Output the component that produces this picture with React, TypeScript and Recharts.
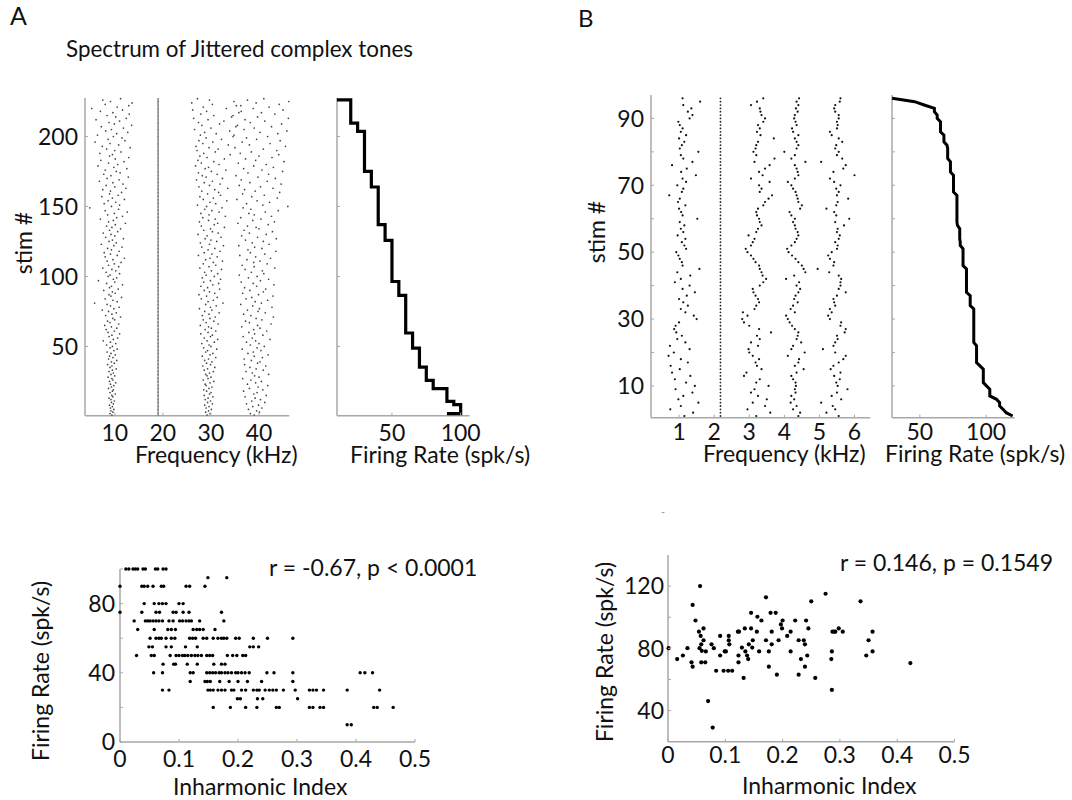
import React from 'react'
import { ScatterChart, Scatter, XAxis, YAxis } from 'recharts'

const FONT = 'Lato, "Open Sans", "DejaVu Sans", sans-serif'
const AXIS_GRAY = '#a8a8a8'
const TICK_FS = 23

// ---------- A: spectrum raster (kHz per stimulus, stim 1 at bottom) ----------
const A_FIXED_KHZ = 19.0
const A_H1_KHZ = [
  9.4, 9.0, 9.6, 9.2, 9.8, 9.1, 9.5, 8.9, 9.7, 9.3,
  9.9, 9.2, 8.8, 9.6, 9.4, 10.1, 9.0, 9.5, 9.7, 8.7,
  9.3, 9.8, 9.1, 10.2, 8.9, 9.6, 9.4, 8.6, 10.0, 9.2,
  9.7, 8.8, 9.5, 10.3, 9.0, 9.4, 8.5, 9.9, 9.3, 10.4,
  8.7, 9.6, 8.9, 10.1, 9.2, 8.4, 9.8, 10.5, 9.0, 9.5,
  8.3, 10.2, 9.1, 7.6, 9.7, 10.6, 8.8, 9.4, 11.0, 8.6,
  9.9, 8.2, 10.4, 9.3, 7.9, 10.8, 9.0, 8.5, 10.0, 9.6,
  11.2, 8.1, 9.4, 10.3, 8.7, 7.4, 9.8, 10.9, 9.1, 8.4,
  5.8, 10.5, 9.6, 8.0, 11.4, 9.2, 8.8, 10.1, 9.5, 7.7,
  10.7, 8.9, 9.3, 11.6, 8.3, 10.0, 6.6, 9.7, 10.4, 8.6,
  9.0, 11.0, 8.2, 10.2, 9.4, 7.5, 10.8, 8.7, 9.9, 11.3,
  8.4, 9.6, 12.0, 8.0, 10.5, 9.1, 7.8, 10.9, 9.3, 8.5,
  11.5, 9.8, 7.2, 10.3, 8.8, 9.5, 11.8, 8.1, 10.0, 9.2,
  7.6, 10.6, 8.9, 11.2, 9.4, 8.3, 10.1, 12.2, 8.7, 9.7,
  7.0, 10.4, 11.6, 8.5, 9.9, 12.6, 8.0, 10.8, 4.8, 9.3,
  11.0, 7.8, 10.2, 8.6, 12.0, 9.5, 7.3, 10.7, 8.9, 11.4,
  9.1, 7.5, 12.3, 10.0, 8.2, 11.7, 9.6, 6.8, 10.9, 8.4,
  12.8, 9.2, 7.7, 11.1, 10.3, 8.0, 12.5, 9.8, 6.5, 10.6,
  8.7, 11.9, 7.1, 10.1, 12.9, 8.9, 9.5, 6.9, 11.3, 10.0,
  8.3, 13.2, 7.4, 10.8, 9.0, 5.9, 12.1, 8.6, 11.5, 9.7,
  6.4, 10.4, 12.7, 8.1, 9.3, 11.8, 7.2, 13.5, 9.9, 8.8,
  11.0, 6.1, 12.4, 10.2, 8.4, 13.0, 9.6, 7.0, 11.6, 5.2,
  10.5, 12.9, 8.0, 13.6, 9.1, 7.5, 11.2,
]
const A_H3_KHZ = [
  29.2, 29.8, 28.9, 29.5, 30.1, 29.0, 29.6, 28.7, 30.3, 29.3,
  29.9, 28.8, 29.4, 30.4, 28.6, 29.7, 30.0, 29.1, 28.5, 29.6,
  30.2, 29.0, 28.8, 29.8, 30.6, 28.4, 29.4, 30.0, 29.2, 28.9,
  29.7, 30.5, 28.6, 29.3, 30.8, 28.3, 29.9, 29.1, 30.2, 28.7,
  29.5, 31.0, 28.2, 29.8, 30.4, 28.9, 29.3, 31.2, 28.5, 30.0,
  29.6, 28.1, 30.7, 29.2, 31.4, 28.6, 29.9, 30.3, 27.9, 29.4,
  31.0, 28.8, 30.1, 29.5, 27.8, 31.5, 29.0, 30.6, 28.4, 29.8,
  30.9, 28.2, 29.6, 31.7, 28.7, 30.2, 27.6, 29.9, 31.1, 28.9,
  32.5, 29.4, 30.5, 28.0, 31.3, 29.1, 27.5, 30.8, 29.7, 28.6,
  31.8, 29.3, 27.9, 30.4, 31.6, 28.5, 29.9, 32.0, 28.2, 30.7,
  29.0, 31.4, 28.7, 30.1, 32.2, 27.7, 29.6, 31.0, 28.4, 30.5,
  32.4, 28.9, 29.8, 31.3, 27.4, 30.2, 28.6, 31.9, 29.4, 30.8,
  28.1, 32.6, 29.7, 27.8, 31.2, 30.0, 28.8, 32.1, 29.2, 27.3,
  31.5, 30.3, 28.5, 29.9, 32.8, 28.0, 30.7, 31.4, 27.6, 29.5,
  30.9, 28.3, 33.0, 29.6, 27.9, 31.7, 30.2, 28.7, 32.3, 29.1,
  27.2, 31.0, 29.8, 33.3, 28.4, 30.5, 27.7, 32.0, 29.3, 31.6,
  28.1, 30.8, 33.5, 27.5, 29.7, 31.9, 28.6, 30.3, 27.0, 32.4,
  29.0, 28.2, 31.3, 27.4, 30.1, 33.1, 28.8, 29.5, 26.8, 31.7,
  28.0, 30.6, 27.3, 32.8, 29.2, 27.7, 34.0, 28.5, 30.9, 27.1,
  31.5, 29.6, 26.9, 33.6, 28.3, 30.4, 27.5, 32.2, 29.0, 34.6,
  27.8, 31.1, 28.7, 33.9, 26.6, 30.0, 35.2, 28.1, 31.8, 27.4,
  32.7, 29.4, 26.4, 34.3, 30.6, 27.9, 35.8, 29.1, 26.2, 33.2,
  28.4, 36.2, 30.3, 26.0, 34.8, 29.7, 27.2,
]
const A_H4_KHZ = [
  39.0, 38.2, 40.1, 39.5, 37.8, 40.6, 38.7, 39.9, 37.4, 41.2,
  38.5, 40.3, 39.2, 37.1, 41.5, 38.9, 39.6, 36.8, 40.8, 38.0,
  39.8, 41.8, 37.6, 39.3, 40.5, 38.3, 36.6, 40.0, 39.1, 42.0,
  38.6, 37.3, 40.9, 39.4, 38.1, 41.4, 37.0, 39.7, 40.2, 38.4,
  36.9, 40.7, 39.0, 41.9, 37.7, 38.8, 40.4, 36.5, 39.6, 41.1,
  38.2, 40.0, 37.4, 39.3, 42.3, 38.6, 36.7, 40.8, 39.1, 37.9,
  41.6, 38.9, 40.2, 36.4, 39.7, 42.5, 38.0, 37.2, 40.6, 39.4,
  43.0, 38.3, 36.8, 41.3, 39.8, 37.6, 40.1, 42.7, 38.7, 36.2,
  40.5, 39.2, 41.8, 37.3, 38.5, 42.9, 39.9, 36.6, 40.9, 38.1,
  41.4, 37.0, 39.5, 43.1, 38.8, 36.3, 40.3, 42.0, 37.8, 39.6,
  35.9, 41.0, 38.4, 40.7, 37.1, 43.3, 39.0, 36.5, 41.7, 38.9,
  40.2, 37.5, 42.4, 39.3, 36.0, 41.2, 38.2, 43.5, 37.7, 40.6,
  39.1, 35.8, 42.1, 38.6, 40.9, 37.2, 43.6, 39.7, 36.4, 41.5,
  38.0, 42.8, 36.9, 40.0, 39.4, 37.6, 41.9, 35.6, 43.2, 38.7,
  40.4, 36.2, 42.6, 39.0, 37.9, 41.3, 44.0, 38.3, 36.7, 46.0,
  40.8, 37.4, 42.2, 39.6, 35.4, 43.8, 38.5, 41.1, 36.6, 44.3,
  39.2, 37.0, 42.9, 40.3, 35.9, 44.6, 38.1, 41.7, 36.3, 43.4,
  39.8, 35.2, 42.0, 37.7, 44.9, 40.6, 36.8, 43.0, 38.9, 41.5,
  35.7, 45.2, 39.3, 37.2, 42.7, 40.0, 44.1, 36.1, 38.4, 43.7,
  40.9, 35.0, 45.5, 38.0, 42.3, 36.5, 44.4, 39.5, 37.4, 41.8,
  34.8, 43.9, 40.2, 45.8, 36.9, 39.0, 42.6, 35.5, 44.7, 38.2,
  41.2, 37.1, 46.1, 39.7, 34.6, 43.3, 40.5, 36.3, 45.0, 38.8,
  42.1, 35.3, 44.2, 39.4, 46.2, 37.6, 41.0,
]

// ---------- A: sorted firing rate staircase ----------
const FR_A_TOP_RATE = 10
const FR_A_BOTTOM_RATE = 90
const FR_A_LEVELS = [20, 25, 30, 35, 40, 45, 50, 55, 60, 65, 70, 75, 80, 90, 95, 100]
const FR_A_EDGES = [226.2, 209.5, 203.6, 175, 163.9, 137, 125.7, 96.4, 86.4, 59.6, 48.8, 35.2, 25.7, 19.8, 10.7, 8.4, 2]

// ---------- A: rate vs inharmonic index ----------
const SA_RATES = [100, 95, 90, 80, 75, 70, 65, 60, 55, 50, 45, 40, 35, 30, 25, 20, 10]
const SA_INDEX = [
  [0.01, 0.015, 0.022, 0.026, 0.03, 0.039, 0.043, 0.06, 0.064, 0.073, 0.078],
  [0.149, 0.181],
  [0, 0.037, 0.041, 0.047, 0.056, 0.07, 0.074, 0.112, 0.118, 0.144],
  [0.041, 0.058, 0.066, 0.072, 0.078, 0.1, 0.107],
  [0, 0.037, 0.061, 0.067, 0.09, 0.095, 0.107, 0.117, 0.172],
  [0.024, 0.043, 0.047, 0.051, 0.056, 0.061, 0.066, 0.072, 0.083, 0.09, 0.101, 0.106, 0.112, 0.117, 0.121, 0.135, 0.176],
  [0.03, 0.058, 0.081, 0.087, 0.094, 0.124, 0.13, 0.135, 0.141, 0.161],
  [0.051, 0.061, 0.066, 0.07, 0.078, 0.087, 0.093, 0.118, 0.123, 0.128, 0.141, 0.147, 0.158, 0.166, 0.172, 0.176, 0.181, 0.196, 0.202, 0.226, 0.25, 0.293],
  [0.049, 0.055, 0.078, 0.087, 0.111, 0.131, 0.22, 0.226, 0.235],
  [0.028, 0.053, 0.058, 0.085, 0.095, 0.1, 0.106, 0.11, 0.115, 0.121, 0.127, 0.132, 0.138, 0.147, 0.152, 0.157, 0.182, 0.191, 0.198, 0.208, 0.213],
  [0.073, 0.091, 0.094, 0.114, 0.131, 0.159, 0.172, 0.178],
  [0.057, 0.072, 0.119, 0.124, 0.147, 0.152, 0.157, 0.162, 0.168, 0.172, 0.178, 0.183, 0.189, 0.196, 0.2, 0.206, 0.212, 0.219, 0.249, 0.261, 0.293, 0.407, 0.415, 0.428],
  [0.119, 0.144, 0.148, 0.153, 0.169, 0.185, 0.2, 0.216, 0.24, 0.293],
  [0.072, 0.083, 0.149, 0.153, 0.158, 0.166, 0.172, 0.178, 0.189, 0.193, 0.206, 0.213, 0.226, 0.232, 0.236, 0.246, 0.253, 0.259, 0.265, 0.277, 0.297, 0.321, 0.327, 0.333, 0.345, 0.385, 0.44],
  [0.199, 0.204, 0.233, 0.242, 0.301],
  [0.158, 0.187, 0.213, 0.232, 0.265, 0.27, 0.321, 0.327, 0.339, 0.345, 0.43, 0.436, 0.463],
  [0.385, 0.392],
]

// ---------- B: spectrum raster ----------
const B_FIXED_KHZ = 2.18
const B_H1_KHZ = [
  1.15, 1.40, 0.75, 1.05, 1.55, 0.98, 1.12, 1.38, 0.90, 1.45,
  1.20, 0.88, 1.32, 0.80, 1.02, 0.76, 1.25, 1.05, 0.70, 0.85,
  1.30, 0.74, 1.18, 0.95, 1.08, 0.92, 0.86, 0.90, 1.00, 1.50,
  1.42, 1.18, 1.05, 1.25, 1.12, 1.00, 1.22, 1.45, 1.10, 1.30,
  0.88, 1.05, 1.32, 0.95, 1.58, 1.10, 1.08, 1.02, 0.98, 0.92,
  1.20, 1.15, 1.08, 1.18, 0.96, 1.12, 1.05, 1.15, 1.02, 1.52,
  1.10, 1.06, 1.00, 1.18, 0.97, 1.02, 0.72, 1.08, 1.12, 0.95,
  1.20, 1.10, 1.48, 1.06, 1.22, 0.80, 1.38, 1.12, 1.05, 1.55,
  1.02, 1.08, 1.15, 1.00, 1.20, 1.05, 1.10, 1.02, 0.98, 1.30,
  1.38, 1.25, 1.35, 1.12, 1.60, 1.10,
]
const B_H3_KHZ = [
  3.20, 3.60, 2.95, 3.45, 3.10, 3.50, 3.25, 3.05, 3.15, 3.55,
  3.20, 3.30, 2.85, 2.92, 3.35, 3.22, 3.18, 3.28, 3.10, 3.00,
  2.98, 3.25, 3.05, 3.30, 3.22, 3.62, 3.28, 3.00, 2.85, 2.80,
  2.95, 2.82, 3.15, 3.20, 3.28, 3.25, 3.18, 3.12, 3.10, 3.30,
  3.40, 3.48, 3.38, 3.35, 3.30, 3.28, 3.18, 3.12, 3.05, 2.95,
  2.90, 3.05, 3.10, 3.15, 2.98, 3.20, 3.25, 3.35, 3.30, 3.28,
  3.22, 3.20, 3.25, 3.40, 3.45, 3.55, 3.65, 3.30, 3.35, 3.28,
  3.58, 3.05, 3.38, 3.28, 3.45, 3.58, 3.15, 3.72, 3.20, 3.12,
  3.18, 3.20, 3.25, 3.70, 3.32, 3.22, 3.30, 3.25, 3.40, 3.45,
  3.35, 3.32, 3.30, 3.05, 3.22, 3.40,
]
const B_H4_KHZ = [
  4.40, 4.45, 4.25, 4.35, 4.18, 4.28, 4.20, 4.32, 4.30, 4.33,
  4.32, 4.25, 4.20, 4.35, 4.55, 4.30, 4.40, 4.42, 4.10, 4.58,
  4.20, 4.25, 4.48, 4.35, 4.38, 4.40, 4.30, 4.22, 4.15, 4.10,
  4.05, 4.30, 4.18, 4.25, 4.38, 4.28, 4.32, 4.40, 4.45, 4.35,
  4.42, 4.05, 4.28, 4.60, 4.55, 4.50, 4.40, 4.32, 4.22, 4.12,
  4.08, 4.20, 4.30, 4.35, 4.40, 4.38, 4.32, 4.30, 4.25, 4.30,
  4.20, 4.15, 4.45, 4.50, 4.40, 4.38, 4.35, 4.32, 4.25, 4.20,
  4.10, 4.30, 4.40, 4.38, 4.35, 4.30, 4.60, 4.20, 4.30, 4.00,
  4.35, 4.40, 4.35, 4.30, 4.40, 4.25, 4.22, 4.35, 4.32, 4.28,
  4.30, 4.38, 4.33, 4.40, 4.35, 4.42,
]
const B_H5_KHZ = [
  5.55, 5.20, 5.45, 5.38, 5.05, 5.62, 5.35, 5.50, 5.80, 5.52,
  5.48, 5.58, 5.42, 5.60, 5.32, 5.40, 5.55, 5.68, 5.75, 5.45,
  5.10, 5.40, 5.45, 5.52, 5.50, 5.72, 5.75, 5.60, 5.62, 5.30,
  5.25, 5.35, 5.30, 5.45, 5.42, 5.40, 5.50, 5.75, 5.55, 5.60,
  5.60, 5.62, 5.55, 5.28, 4.95, 5.40, 5.42, 5.30, 5.25, 5.35,
  5.50, 5.52, 5.45, 5.55, 5.58, 5.50, 5.52, 5.70, 5.45, 5.85,
  5.48, 5.42, 5.20, 5.48, 5.52, 5.82, 5.50, 5.55, 5.48, 5.60,
  5.42, 5.30, 6.00, 5.40, 5.68, 5.75, 5.05, 5.65, 5.50, 5.55,
  5.45, 5.48, 5.65, 5.55, 5.35, 5.30, 5.50, 5.52, 5.50, 5.55,
  5.55, 5.45, 5.42, 5.45, 5.58, 5.60,
]

// ---------- B: rate vs inharmonic index (also sorted for the rate curve) ----------
const SB_INDEX = [
  0.001, 0.016, 0.026, 0.034, 0.041, 0.043, 0.043, 0.048, 0.054, 0.056,
  0.055, 0.057, 0.058, 0.059, 0.062, 0.058, 0.062, 0.065, 0.066, 0.07,
  0.076, 0.078, 0.08, 0.084, 0.091, 0.091, 0.097, 0.099, 0.101, 0.105,
  0.106, 0.106, 0.107, 0.112, 0.122, 0.123, 0.123, 0.129, 0.132, 0.134,
  0.135, 0.138, 0.14, 0.141, 0.145, 0.145, 0.147, 0.148, 0.155, 0.156,
  0.159, 0.163, 0.171, 0.171, 0.176, 0.176, 0.179, 0.181, 0.181, 0.188,
  0.19, 0.193, 0.197, 0.2, 0.199, 0.208, 0.214, 0.214, 0.222, 0.228,
  0.228, 0.232, 0.237, 0.239, 0.239, 0.241, 0.243, 0.245, 0.25, 0.257,
  0.275, 0.285, 0.286, 0.286, 0.287, 0.292, 0.298, 0.305, 0.336, 0.346,
  0.35, 0.357, 0.357, 0.423, 0.124, 0.29,
]
const SB_RATE = [
  80.1, 73.1, 75.4, 80.1, 71, 68.2, 107.9, 97.9, 90.7, 120,
  80.1, 88, 82.6, 78.4, 92.8, 71, 85.2, 71, 78, 46.1,
  82.6, 29.1, 80.1, 65.6, 88, 75.4, 65.6, 78, 78, 65.6,
  88, 85.2, 82.6, 65.6, 90.7, 75.4, 71, 80.5, 61, 92.8,
  78, 75.4, 73.1, 82.6, 102.8, 92.8, 80.5, 85.2, 90.7, 100.3,
  78, 97.9, 112.8, 85.2, 78, 68.2, 102.8, 90.7, 82.6, 102.8,
  63.1, 85.2, 95.4, 97.9, 92.8, 88, 90.7, 78, 97.9, 85.2,
  63.1, 73.1, 85.2, 82.6, 68.2, 97.9, 75.4, 92.8, 110.2, 61,
  115.1, 73.1, 78, 53.3, 90.7, 90.7, 92.8, 90.7, 110.2, 75.4,
  85.2, 78, 90.7, 70.5, 90.7, 90.7,
]

// ---------- tables ----------
const column = (vals: number[]) => vals.map((f, i) => ({ x: f, y: i + 1 }))
const fixedColumn = (f: number, n: number) => Array.from({ length: n }, (_, i) => ({ x: f, y: i + 1 }))

const frAPath: { x: number; y: number }[] = [{ x: FR_A_TOP_RATE, y: FR_A_EDGES[0] }]
FR_A_LEVELS.forEach((r, i) => {
  frAPath.push({ x: r, y: FR_A_EDGES[i] }, { x: r, y: FR_A_EDGES[i + 1] })
})
frAPath.push({ x: FR_A_BOTTOM_RATE, y: FR_A_EDGES[FR_A_EDGES.length - 1] })

const scatterA = SA_RATES.flatMap((r, i) => SA_INDEX[i].map(x => ({ x, y: r })))
const scatterB = SB_INDEX.map((x, i) => ({ x, y: SB_RATE[i] }))
const frBPath = [...SB_RATE].sort((a, b) => b - a).map((r, i) => ({ x: r, y: i + 1 }))

// ---------- drawing helpers ----------
const dot = (r: number, fill: string) => (p: any) => <circle cx={p.cx} cy={p.cy} r={r} fill={fill} />
const noDot = () => <g />

function XTick(p: any) {
  const { x, y, payload, labels, dy } = p
  const v = payload.value
  return (
    <g>
      <line x1={x} x2={x} y1={y} y2={y - 3} stroke={AXIS_GRAY} strokeWidth={1} />
      {labels.includes(v) ? (
        <text x={x} y={y + dy} textAnchor="middle" fontSize={TICK_FS} fontFamily={FONT} fill="#111">{v}</text>
      ) : null}
    </g>
  )
}

function YTick(p: any) {
  const { x, y, payload, labels, gap } = p
  const v = payload.value
  return (
    <g>
      <line x1={x} x2={x + 3} y1={y} y2={y} stroke={AXIS_GRAY} strokeWidth={1} />
      {labels.includes(v) ? (
        <text x={x - gap} y={y} dy="0.36em" textAnchor="end" fontSize={TICK_FS} fontFamily={FONT} fill="#111">{v}</text>
      ) : null}
    </g>
  )
}

type Box = { x0: number; y0: number; x1: number; y1: number }
const YW = 70
const XH = 50
const MT = 6
const MR = 26

type AxisSpec = { domain: [number, number]; ticks: number[]; labels: number[] }

function Panel({ box, xs, ys, xdy, ygap, children }: { box: Box; xs: AxisSpec; ys: AxisSpec; xdy: number; ygap: number; children: React.ReactNode }) {
  return (
    <div style={{ position: 'absolute', left: box.x0 - YW, top: box.y0 - MT }}>
      <ScatterChart width={box.x1 - box.x0 + YW + MR} height={box.y1 - box.y0 + MT + XH} margin={{ top: MT, right: MR, bottom: 0, left: 0 }} style={{ overflow: 'visible' }}>
        <XAxis type="number" dataKey="x" domain={xs.domain} ticks={xs.ticks} interval={0} height={XH}
          axisLine={{ stroke: AXIS_GRAY, strokeWidth: 1.5 }} tickLine={false} tickSize={0} tickMargin={0}
          tick={(t: any) => <XTick {...t} labels={xs.labels} dy={xdy} />} />
        <YAxis type="number" dataKey="y" domain={ys.domain} ticks={ys.ticks} interval={0} width={YW}
          axisLine={{ stroke: AXIS_GRAY, strokeWidth: 1.5 }} tickLine={false} tickSize={0} tickMargin={0}
          tick={(t: any) => <YTick {...t} labels={ys.labels} gap={ygap} />} />
        {children}
      </ScatterChart>
    </div>
  )
}

const label = { fontFamily: FONT, fontSize: 23, fill: '#111' }

export default function App() {
  const stimA: AxisSpec = { domain: [0.5, 227.5], ticks: [50, 100, 150, 200], labels: [50, 100, 150, 200] }
  const stimAFr: AxisSpec = { ...stimA, labels: [] }
  const stimB: AxisSpec = { domain: [0.5, 97], ticks: [10, 20, 30, 40, 50, 60, 70, 80, 90], labels: [10, 30, 50, 70, 90] }
  const stimBFr: AxisSpec = { ...stimB, labels: [] }
  const inhX: AxisSpec = { domain: [0, 0.5], ticks: [0, 0.1, 0.2, 0.3, 0.4, 0.5], labels: [0, 0.1, 0.2, 0.3, 0.4, 0.5] }

  return (
    <div style={{ position: 'absolute', left: 0, top: 0, width: 1072, height: 800, background: '#fff', overflow: 'hidden' }}>
      <Panel box={{ x0: 85, y0: 98.3, x1: 289.3, y1: 416 }} xdy={25.7} ygap={7}
        xs={{ domain: [3.8, 46.3], ticks: [10, 20, 30, 40], labels: [10, 20, 30, 40] }} ys={stimA}>
        <Scatter data={fixedColumn(A_FIXED_KHZ, A_H1_KHZ.length)} shape={dot(0.8, '#666')} isAnimationActive={false} />
        <Scatter data={column(A_H1_KHZ)} shape={dot(0.85, '#444')} isAnimationActive={false} />
        <Scatter data={column(A_H3_KHZ)} shape={dot(0.85, '#444')} isAnimationActive={false} />
        <Scatter data={column(A_H4_KHZ)} shape={dot(0.85, '#444')} isAnimationActive={false} />
      </Panel>

      <Panel box={{ x0: 336.7, y0: 98.3, x1: 469.3, y1: 416 }} xdy={25.7} ygap={7}
        xs={{ domain: [10, 106.5], ticks: [50, 100], labels: [50, 100] }} ys={stimAFr}>
        <Scatter data={frAPath} shape={noDot} line={{ stroke: '#000', strokeWidth: 3.2 }} lineType="joint" isAnimationActive={false} />
      </Panel>

      <Panel box={{ x0: 650.7, y0: 95, x1: 870, y1: 417.7 }} xdy={22.5} ygap={7}
        xs={{ domain: [0.2, 6.45], ticks: [1, 2, 3, 4, 5, 6], labels: [1, 2, 3, 4, 5, 6] }} ys={stimB}>
        <Scatter data={fixedColumn(B_FIXED_KHZ, B_H1_KHZ.length)} shape={dot(0.9, '#222')} isAnimationActive={false} />
        <Scatter data={column(B_H1_KHZ)} shape={dot(1.1, '#111')} isAnimationActive={false} />
        <Scatter data={column(B_H3_KHZ)} shape={dot(1.1, '#111')} isAnimationActive={false} />
        <Scatter data={column(B_H4_KHZ)} shape={dot(1.1, '#111')} isAnimationActive={false} />
        <Scatter data={column(B_H5_KHZ)} shape={dot(1.1, '#111')} isAnimationActive={false} />
      </Panel>

      <Panel box={{ x0: 891.7, y0: 95, x1: 1014.3, y1: 417.7 }} xdy={22.5} ygap={7}
        xs={{ domain: [29, 121.5], ticks: [50, 100], labels: [50, 100] }} ys={stimBFr}>
        <Scatter data={frBPath} shape={noDot} line={{ stroke: '#000', strokeWidth: 3 }} lineType="joint" isAnimationActive={false} />
      </Panel>

      <Panel box={{ x0: 120, y0: 569.3, x1: 415, y1: 742.3 }} xdy={25} ygap={5}
        xs={inhX} ys={{ domain: [0, 100], ticks: [0, 20, 40, 60, 80, 100], labels: [0, 40, 80] }}>
        <Scatter data={scatterA} shape={dot(1.7, '#000')} isAnimationActive={false} />
      </Panel>

      <Panel box={{ x0: 667.5, y0: 555, x1: 954, y1: 741.7 }} xdy={21.5} ygap={4}
        xs={inhX} ys={{ domain: [20, 140], ticks: [40, 60, 80, 100, 120], labels: [40, 80, 120] }}>
        <Scatter data={scatterB} shape={dot(2.1, '#000')} isAnimationActive={false} />
      </Panel>

      <svg width={1072} height={800} style={{ position: 'absolute', left: 0, top: 0, pointerEvents: 'none' }}>
        <text x={10} y={25} fontFamily={FONT} fontSize={25} fill="#111">A</text>
        <text x={578} y={27} fontFamily={FONT} fontSize={24} fill="#111">B</text>
        <text x={66} y={57} {...label} fontSize={22.4}>Spectrum of Jittered complex tones</text>

        <text x={32} y={243} {...label} textAnchor="middle" transform="rotate(-90 32 243)">stim #</text>
        <text x={605} y={232} {...label} textAnchor="middle" transform="rotate(-90 605 232)">stim #</text>

        <text x={135} y={463} {...label}>Frequency (kHz)</text>
        <text x={350} y={463} {...label}>Firing Rate (spk/s)</text>
        <text x={703} y={462} {...label}>Frequency (kHz)</text>
        <text x={885} y={462} {...label}>Firing Rate (spk/s)</text>

        <text x={49} y={671} {...label} textAnchor="middle" transform="rotate(-90 49 671)">Firing Rate (spk/s)</text>
        <text x={173} y={795} {...label}>Inharmonic Index</text>
        <text x={269} y={576} {...label}>r = -0.67, p &lt; 0.0001</text>

        <text x={613} y={652} {...label} textAnchor="middle" transform="rotate(-90 613 652)">Firing Rate (spk/s)</text>
        <text x={742} y={794} {...label}>Inharmonic Index</text>
        <text x={840} y={571} {...label}>r = 0.146, p = 0.1549</text>

        <text x={661} y={516} fontFamily={FONT} fontSize={11} fill="#999">-</text>
      </svg>
    </div>
  )
}
